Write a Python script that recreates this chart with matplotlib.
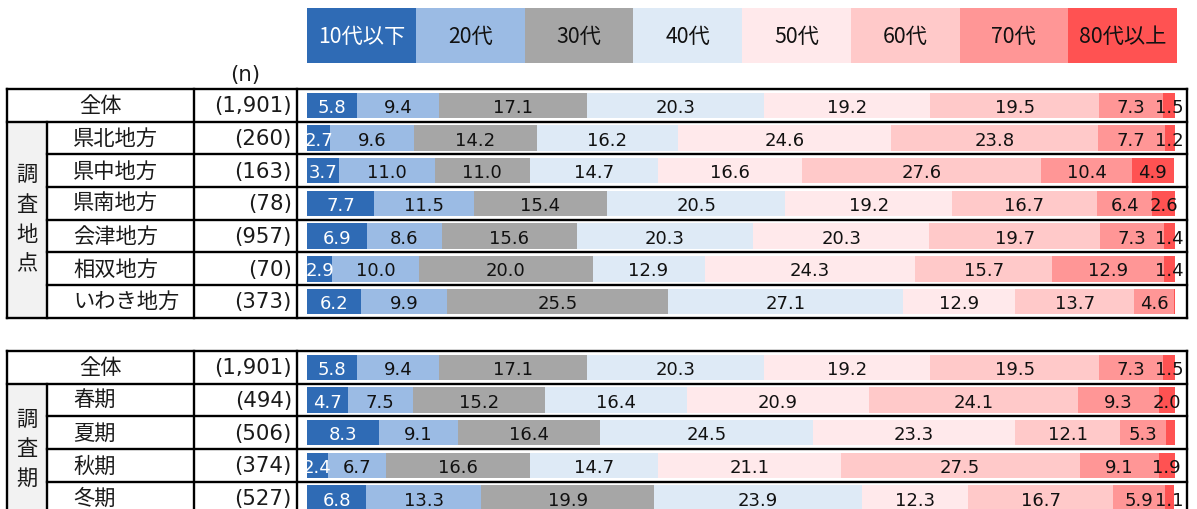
import matplotlib
matplotlib.use("Agg")
import matplotlib.pyplot as plt
import matplotlib.transforms as mtransforms
from matplotlib.patches import Rectangle
import numpy as np

# ---------------- data ----------------
age_groups = ["10代以下", "20代", "30代", "40代", "50代", "60代", "70代", "80代以上"]
colors = ["#2f6bb5", "#9bbbe4", "#a6a6a6", "#deeaf6", "#ffe9eb", "#ffc9c9", "#ff9696", "#ff5252"]
label_colors = ["white", "#111111", "#111111", "#111111", "#111111", "#111111", "#111111", "#111111"]

region_rows = ["全体", "県北地方", "県中地方", "県南地方", "会津地方", "相双地方", "いわき地方"]
region_n = ["(1,901)", "(260)", "(163)", "(78)", "(957)", "(70)", "(373)"]
region_values = [
    [5.8, 9.4, 17.1, 20.3, 19.2, 19.5, 7.3, 1.5],
    [2.7, 9.6, 14.2, 16.2, 24.6, 23.8, 7.7, 1.2],
    [3.7, 11.0, 11.0, 14.7, 16.6, 27.6, 10.4, 4.9],
    [7.7, 11.5, 15.4, 20.5, 19.2, 16.7, 6.4, 2.6],
    [6.9, 8.6, 15.6, 20.3, 20.3, 19.7, 7.3, 1.4],
    [2.9, 10.0, 20.0, 12.9, 24.3, 15.7, 12.9, 1.4],
    [6.2, 9.9, 25.5, 27.1, 12.9, 13.7, 4.6, 0.3],
]
region_group_label = "調査地点"

season_rows = ["全体", "春期", "夏期", "秋期", "冬期"]
season_n = ["(1,901)", "(494)", "(506)", "(374)", "(527)"]
season_values = [
    [5.8, 9.4, 17.1, 20.3, 19.2, 19.5, 7.3, 1.5],
    [4.7, 7.5, 15.2, 16.4, 20.9, 24.1, 9.3, 2.0],
    [8.3, 9.1, 16.4, 24.5, 23.3, 12.1, 5.3, 1.0],
    [2.4, 6.7, 16.6, 14.7, 21.1, 27.5, 9.1, 1.9],
    [6.8, 13.3, 19.9, 23.9, 12.3, 16.7, 5.9, 1.1],
]
season_group_label = "調査期"

# labels not printed in the original (row name, age index)
hidden_labels = {("いわき地方", 7), ("夏期", 7)}

# ---------------- style / layout ----------------
CJK = ["Noto Sans CJK JP", "DejaVu Sans"]
W, H = 1197, 509
fig = plt.figure(figsize=(W / 100, H / 100), dpi=100)
ov = fig.add_axes([0, 0, 1, 1])
ov.set_xlim(0, W)
ov.set_ylim(H, 0)
ov.axis("off")

X_LEFT, X_GRP, X_LAB, X_N, X_RIGHT = 7, 46.7, 194, 296.7, 1187
BAR_X0, BAR_X1 = 307, 1175
ROW_H = 32.67
LW = 1.7
FS_LAB = 15.3
FS_NUM = 15.3
FS_BAR = 13
TXT = "#1a1a1a"

# legend boxes
leg_x0, leg_x1, leg_y0, leg_y1 = 307, 1177, 7.5, 62.5
bw = (leg_x1 - leg_x0) / len(age_groups)
for i, (g, c, tc) in enumerate(zip(age_groups, colors, label_colors)):
    ov.add_patch(Rectangle((leg_x0 + i * bw, leg_y0), bw, leg_y1 - leg_y0, facecolor=c, edgecolor="none"))
    ov.text(leg_x0 + (i + 0.5) * bw, (leg_y0 + leg_y1) / 2 + 1.5, g, ha="center", va="center",
            fontsize=FS_LAB, color=tc, family=CJK)

ov.text(245, 75, "(n)", ha="center", va="center", fontsize=FS_NUM, family=["DejaVu Sans"], color=TXT)


def draw_table(top, rows, ns, values, group_label):
    nrows = len(rows)
    bottom = top + nrows * ROW_H
    # group column fill
    ov.add_patch(Rectangle((X_LEFT, top + ROW_H), X_GRP - X_LEFT, bottom - top - ROW_H,
                           facecolor="#f2f2f2", edgecolor="none", zorder=0))
    kw = dict(color="black", lw=LW, solid_capstyle="projecting", zorder=5)
    # outer frame
    ov.plot([X_LEFT, X_RIGHT], [top, top], **kw)
    ov.plot([X_LEFT, X_RIGHT], [bottom, bottom], **kw)
    ov.plot([X_LEFT, X_LEFT], [top, bottom], **kw)
    ov.plot([X_RIGHT, X_RIGHT], [top, bottom], **kw)
    ov.plot([X_LAB, X_LAB], [top, bottom], **kw)
    ov.plot([X_N, X_N], [top, bottom], **kw)
    ov.plot([X_GRP, X_GRP], [top + ROW_H, bottom], **kw)
    for r in range(1, nrows):
        y = top + r * ROW_H
        ov.plot([X_LEFT if r == 1 else X_GRP, X_RIGHT], [y, y], **kw)
    # texts
    for r, (name, n) in enumerate(zip(rows, ns)):
        yc = top + (r + 0.5) * ROW_H + 1
        if r == 0:
            ov.text((X_LEFT + X_LAB) / 2, yc, name, ha="center", va="center", fontsize=FS_LAB,
                    family=CJK, color=TXT)
        else:
            ov.text(73, yc, name, ha="left", va="center", fontsize=FS_LAB, family=CJK, color=TXT)
        ov.text(292, yc, n, ha="right", va="center", fontsize=FS_NUM, family=["DejaVu Sans"], color=TXT)
    gy = (top + ROW_H + bottom) / 2
    ov.text((X_LEFT + X_GRP) / 2, gy, "\n".join(group_label), ha="center", va="center",
            fontsize=FS_LAB, family=CJK, linespacing=1.45, color=TXT)

    # bar axes in data coordinates
    ax = fig.add_axes([BAR_X0 / W, 1 - bottom / H, (BAR_X1 - BAR_X0) / W, (bottom - top) / H])
    ax.set_xlim(0, 100)
    ax.set_ylim(nrows - 0.5, -0.5)
    ax.axis("off")
    vals = np.array(values)
    ypos = np.arange(nrows)
    left = np.zeros(nrows)
    off = mtransforms.ScaledTranslation(0, -2.5 / 100, fig.dpi_scale_trans)
    for k in range(len(age_groups)):
        ax.barh(ypos, vals[:, k], left=left, height=0.785, color=colors[k], edgecolor="none")
        for r in range(nrows):
            if (rows[r], k) in hidden_labels:
                continue
            ax.text(left[r] + vals[r, k] / 2, ypos[r], f"{vals[r, k]:.1f}", ha="center", va="center",
                    fontsize=FS_BAR, color=label_colors[k], family=["DejaVu Sans"],
                    transform=ax.transData + off, clip_on=False)
        left += vals[:, k]
    return ax


draw_table(89, region_rows, region_n, region_values, region_group_label)
draw_table(351, season_rows, season_n, season_values, season_group_label)

fig.savefig("out.png", dpi=100)
